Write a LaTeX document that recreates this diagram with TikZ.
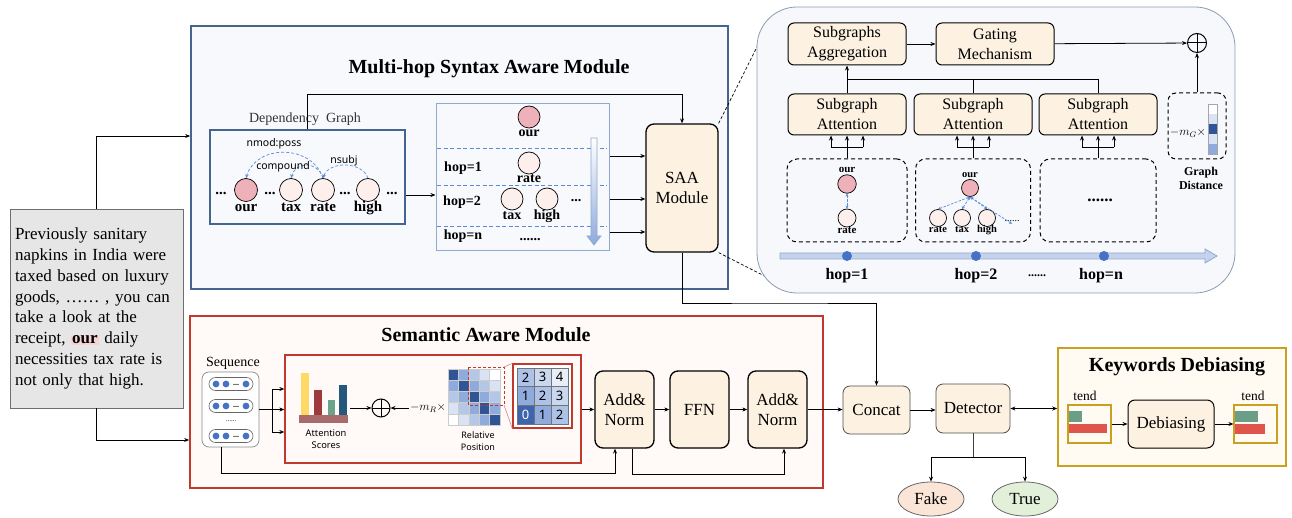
\documentclass[tikz,border=0pt]{standalone}
\usepackage{fontspec}
\setmainfont{Liberation Serif}
\newfontfamily\sansf{Noto Sans}
\usetikzlibrary{arrows.meta,shapes.geometric,calc}
\definecolor{mhfill}{HTML}{F7F9FC}
\definecolor{mhdraw}{HTML}{44668E}
\definecolor{hopdraw}{HTML}{8FAACF}
\definecolor{depblue}{HTML}{5B8BD8}
\definecolor{ourfill}{HTML}{EEB1B9}
\definecolor{nodefill}{HTML}{FCEFEC}
\definecolor{cream}{HTML}{FDF2E1}
\definecolor{semdraw}{HTML}{C0392E}
\definecolor{semfill}{HTML}{FFF9F8}
\definecolor{panelfill}{HTML}{F6F8FC}
\definecolor{paneldraw}{HTML}{8C9CB4}
\definecolor{gold}{HTML}{C9A020}
\definecolor{kdfill}{HTML}{FFFBF3}
\definecolor{txtfill}{HTML}{E6E6E6}
\definecolor{txtdraw}{HTML}{6E6E6E}
\definecolor{fakefill}{HTML}{FBE5D6}
\definecolor{truefill}{HTML}{E2F0D9}
\definecolor{bA}{HTML}{2F5597}
\definecolor{bB}{HTML}{8FAADC}
\definecolor{bC}{HTML}{B4C7E7}
\definecolor{bD}{HTML}{DAE3F3}
\definecolor{mc0}{HTML}{2F5597}
\definecolor{mc1}{HTML}{8FAADC}
\definecolor{mc2}{HTML}{B4C7E7}
\definecolor{mc3}{HTML}{DAE3F3}
\definecolor{mc4}{HTML}{FFFFFF}
\definecolor{gc0}{HTML}{3E64AD}
\definecolor{gc1}{HTML}{8FAADC}
\definecolor{gc2}{HTML}{ADC2E6}
\definecolor{gc3}{HTML}{C9D7EF}
\definecolor{gc4}{HTML}{E8EEF8}
\definecolor{dotblue}{HTML}{4472C4}
\definecolor{ourhl}{HTML}{F9D3D3}
\definecolor{barY}{HTML}{FFD966}
\definecolor{barR}{HTML}{9E3A3C}
\definecolor{barG}{HTML}{6AA38C}
\definecolor{barB}{HTML}{24587C}
\definecolor{barBase}{HTML}{A86A6A}
\definecolor{tendG}{HTML}{6A9E88}
\definecolor{tendR}{HTML}{E0554B}
\newcommand{\fsz}[2]{\fontsize{#1pt}{#2pt}\selectfont}
\tikzset{
 arr/.style={-{Stealth[length=5pt,width=4pt]}, line width=0.8pt},
 blk/.style={draw, line width=1.3pt, rounded corners=8pt, fill=cream, align=center, inner sep=1pt, font=\fsz{17}{20}},
 sbox/.style={draw=black!70, line width=0.8pt, rounded corners=7pt, fill=cream, align=center, inner sep=1pt, font=\fsz{17}{20}},
 pbox/.style={draw, line width=1pt, rounded corners=6pt, fill=cream, align=center, font=\fsz{16}{20}, minimum width=118pt, minimum height=41pt, inner sep=1pt},
 wn/.style={circle, draw, line width=0.7pt, fill=nodefill, inner sep=0pt},
 ournode/.style={wn, fill=ourfill},
 lbl/.style={inner sep=0pt, anchor=base, font=\bfseries\fsz{14}{16}},
 deparr/.style={dash pattern=on 3pt off 2pt, depblue, line width=0.7pt, -{Stealth[length=4pt,width=3.5pt]}},
 deparrb/.style={dash pattern=on 2.5pt off 1.5pt, depblue, line width=0.7pt, {Stealth[length=3pt,width=3pt]}-{Stealth[length=3pt,width=3pt]}},
 dashbox/.style={draw, dash pattern=on 4pt off 3pt, line width=1pt, rounded corners=10pt},
 opl/.style={circle, draw, line width=1pt, inner sep=0pt, minimum size=19pt, path picture={\draw[line width=1pt] (path picture bounding box.north) -- (path picture bounding box.south) (path picture bounding box.west) -- (path picture bounding box.east);}},
}
\begin{document}
\begin{tikzpicture}[x=1pt,y=-1pt]
\useasboundingbox (0,0) rectangle (1292,518);
% ---------- backgrounds of modules
\node[draw=mhdraw, fill=mhfill, line width=1.6pt, minimum width=537pt, minimum height=263pt] (mh) at (459.5,157.5) {};
\node[draw=semdraw, fill=semfill, line width=1.6pt, minimum width=633pt, minimum height=172pt] (sem) at (506.5,402) {};
% ---------- text box
\node[draw=txtdraw, fill=txtfill, line width=0.8pt, minimum width=173pt, minimum height=199pt, text width=163pt, align=left, inner sep=5pt, font=\fsz{17}{20.8}] (txt) at (96.5,308.5)
{Previously sanitary\\napkins in India were\\taxed based on luxury\\goods, …… , you can\\take a look at the\\receipt, {\setlength{\fboxsep}{1pt}\colorbox{ourhl}{\textbf{our}}} daily\\necessities tax rate is\\not only that high.};
\coordinate (k136) at (0,136);
\coordinate (k440) at (0,440);
\draw[arr] (txt.north) |- (mh.west |- k136);
\draw[arr] (txt.south) |- (sem.west |- k440);
% ---------- multi-hop module
\node[font=\bfseries\fsz{20}{22}] (mhT) at (489,69) {Multi-hop Syntax Aware Module};
\node[font=\fsz{14}{16}, text=black!80] (depL) at (305,119) {Dependency\ \ Graph};
\node[draw=mhdraw, fill=mhfill, line width=1.2pt, minimum width=195pt, minimum height=94pt] (dep) at (307.5,177) {};
\node[ournode, minimum size=23pt] (d_our) at (246,190) {};
\node[wn, minimum size=23pt] (d_tax) at (291,190) {};
\node[wn, minimum size=23pt] (d_rate) at (323,190) {};
\node[wn, minimum size=23pt] (d_high) at (368,190) {};
\node[lbl, font=\bfseries\fsz{15}{17}] (dl_our) at (246,212) {our};
\node[lbl, font=\bfseries\fsz{15}{17}] (dl_tax) at (291,212) {tax};
\node[lbl, font=\bfseries\fsz{15}{17}] (dl_rate) at (323,212) {rate};
\node[lbl, font=\bfseries\fsz{15}{17}] (dl_high) at (368,212) {high};
\node[lbl, font=\bfseries\fsz{15}{17}] (dd1) at (221,195) {...};
\node[lbl, font=\bfseries\fsz{15}{17}] (dd2) at (270,195) {...};
\node[lbl, font=\bfseries\fsz{15}{17}] (dd3) at (345,195) {...};
\node[lbl, font=\bfseries\fsz{15}{17}] (dd4) at (392,195) {...};
\draw[deparr] (d_rate.north) .. controls (312,144) and (256,144) .. (d_our.north);
\draw[deparr] (d_rate.north) .. controls (318,161) and (296,161) .. (d_tax.north);
\draw[deparr] (d_high.north) .. controls (362,161) and (329,161) .. (d_rate.north);
\node[font=\sansf\fsz{10.5}{12}, inner sep=1pt] (l_nmod) at (274,144) {nmod:poss};
\node[font=\sansf\fsz{10.5}{12}, inner sep=1pt] (l_comp) at (283,167) {compound};
\node[font=\sansf\fsz{10.5}{12}, inner sep=1pt] (l_nsubj) at (344,161) {nsubj};
% hop box
\node[draw=hopdraw, fill=mhfill, line width=1pt, minimum width=173pt, minimum height=147pt] (hop) at (522.5,177.5) {};
\foreach \yy in {148,185,226} \draw[depblue, dash pattern=on 4pt off 2.5pt, line width=0.8pt] (437,\yy) -- (607,\yy);
\node[ournode, minimum size=22pt] (h_our) at (529,117) {};
\node[lbl] (hl_our) at (529,137) {our};
\node[lbl] (hop1) at (463,171.5) {hop=1};
\node[wn, minimum size=22pt] (h_rate) at (529,163) {};
\node[lbl] (hl_rate) at (529,183) {rate};
\node[lbl] (hop2) at (462,206) {hop=2};
\node[wn, minimum size=22pt] (h_tax) at (512,199) {};
\node[wn, minimum size=22pt] (h_high) at (547,199) {};
\node[lbl] (hl_tax) at (512,220) {tax};
\node[lbl] (hl_high) at (547,220) {high};
\node[lbl] (hdots) at (576,202) {...};
\node[lbl] (hopn) at (463,240) {hop=n};
\node[lbl] (hdots2) at (530,241) {......};
\shade[top color=white, bottom color=bB, draw=hopdraw, line width=0.7pt] (591,138) -- (597,138) -- (597,236) -- (601,236) -- (594,245) -- (587,236) -- (591,236) -- cycle;
\coordinate (k195) at (0,195);
\draw[arr] (dep.east |- k195) -- (hop.west |- k195);
% SAA
\node[blk, minimum width=72pt, minimum height=128pt] (saa) at (682,188) {SAA\\Module};
\coordinate (k94) at (0,94);
\draw[arr] (dep.north) |- (saa.north |- k94) -- (saa.north);
\coordinate (h1) at (0,156);
\coordinate (h2) at (0,199);
\coordinate (h3) at (0,232);
\foreach \h in {h1,h2,h3} \draw[arr] (hop.east |- \h) -- (saa.west |- \h);
% ---------- zoom panel
\coordinate (zA) at (762,37);
\coordinate (zB) at (792,290);
\draw[dash pattern=on 3pt off 2pt, line width=0.7pt] (saa.north east) -- (zA);
\draw[dash pattern=on 3pt off 2pt, line width=0.7pt] (saa.south east) -- (zB);
\node[draw=paneldraw, fill=panelfill, line width=0.8pt, rounded corners=40pt, minimum width=478pt, minimum height=286pt] (panel) at (996,150) {};
\node[pbox, minimum height=42pt] (agg) at (847,44) {Subgraphs\\Aggregation};
\node[pbox, minimum height=42pt] (gate) at (995,44) {Gating\\Mechanism};
\node[opl] (op1) at (1197,43) {};
\draw[arr] (agg) -- (gate);
\draw[arr] (gate) -- (op1);
\node[pbox] (att1) at (847,114.5) {Subgraph\\Attention};
\node[pbox] (att2) at (973,114.5) {Subgraph\\Attention};
\node[pbox] (att3) at (1098,114.5) {Subgraph\\Attention};
\coordinate (bus) at (0,79);
\draw[line width=0.8pt] (att3.north) |- (att1.north |- bus);
\draw[line width=0.8pt] (att2.north) -- (att2.north |- bus);
\draw[arr] (att1.north) -- (agg.south);
\node[dashbox, minimum width=120pt, minimum height=83pt] (sub1) at (847,200.5) {};
\node[dashbox, minimum width=115pt, minimum height=83pt] (sub2) at (973,200.5) {};
\node[dashbox, minimum width=116pt, minimum height=83pt] (sub3) at (1098,200.5) {};
\foreach \s/\a in {sub1/att1, sub2/att2, sub3/att3} {
  \draw[line width=0.8pt] (\s.north) -- ($(\a.south)+(0,12)$);
  \draw[line width=0.8pt] ($(\a.south)+(-16,12)$) -- ($(\a.south)+(16,12)$);
  \foreach \dx in {-16,0,16} \draw[arr] ($(\a.south)+(\dx,12)$) -- ($(\a.south)+(\dx,0)$);
}
% sub1
\node[lbl, font=\bfseries\fsz{11}{12}] (s1l) at (847,173) {our};
\node[ournode, minimum size=18.5pt] (s1o) at (847,184) {};
\node[wn, minimum size=18pt] (s1r) at (847,218) {};
\node[lbl, font=\bfseries\fsz{11}{12}] (s1rl) at (847,234) {rate};
\draw[deparrb] (s1o.south) -- (s1r.north);
% sub2
\node[lbl, font=\bfseries\fsz{10.5}{12}] (s2l) at (970,178) {our};
\node[ournode, minimum size=17pt] (s2o) at (970,188) {};
\node[wn, minimum size=17pt] (s2r) at (938,218) {};
\node[wn, minimum size=17pt] (s2t) at (962,218) {};
\node[wn, minimum size=17pt] (s2h) at (987,218) {};
\node[lbl, font=\bfseries\fsz{10.5}{12}] (s2rl) at (938,233) {rate};
\node[lbl, font=\bfseries\fsz{10.5}{12}] (s2tl) at (962,233) {tax};
\node[lbl, font=\bfseries\fsz{10.5}{12}] (s2hl) at (987,233) {high};
\node[lbl, font=\fsz{10}{12}] (s2d) at (1012,222) {......};
\draw[deparrb] (s2o.south) -- (s2r.north);
\draw[deparrb] (s2o.south) -- (s2t.north);
\draw[deparrb] (s2o.south) -- (s2h.north);
\draw[deparrb] (s2o.south) -- ($(s2d.north)+(0,3)$);
% sub3
\node[lbl, font=\bfseries\fsz{17}{17}] (s3d) at (1100,202) {......};
% graph distance
\node[dashbox, rounded corners=8pt, minimum width=58pt, minimum height=66pt] (gd) at (1197,126) {};
\node[font=\fsz{12}{12}, inner sep=0pt] (mG) at (1188,133) {$-m_G\times$};
\foreach \c [count=\i from 0] in {white,bD,bA,bD,bB} \fill[\c] (1208,104+\i*10) rectangle (1217,114+\i*10);
\draw[black!35, line width=0.4pt] (1208,104) rectangle (1217,154);
\draw[arr] (gd.north) -- (op1.south);
\node[font=\bfseries\fsz{12}{14}, align=center] (gdl) at (1201,178) {Graph\\Distance};
% timeline
\fill[bD!70!bB] (780,253) -- (1205,253) -- (1205,249) -- (1217,256) -- (1205,263) -- (1205,259) -- (780,259) -- cycle;
\draw[hopdraw, line width=0.8pt] (780,253) -- (1205,253) -- (1205,249) -- (1217,256) -- (1205,263) -- (1205,259) -- (780,259) -- cycle;
\node[circle, fill=dotblue, minimum size=10pt, inner sep=0pt] (t1) at (847,256) {};
\node[circle, fill=dotblue, minimum size=10pt, inner sep=0pt] (t2) at (976,256) {};
\node[circle, fill=dotblue, minimum size=10pt, inner sep=0pt] (t3) at (1104,256) {};
\node[lbl, font=\bfseries\fsz{16}{16}] (tl1) at (847,280) {hop=1};
\node[lbl, font=\bfseries\fsz{16}{16}] (tl2) at (976,280) {hop=2};
\node[lbl, font=\bfseries\fsz{12}{16}] (tld) at (1037,277) {......};
\node[lbl, font=\bfseries\fsz{16}{16}] (tl3) at (1101,280) {hop=n};
% ---------- semantic module
\node[font=\bfseries\fsz{20}{22}] (semT) at (486,335) {Semantic Aware Module};
\node[font=\fsz{14}{16}] (seqL) at (233,363) {Sequence};
\node[draw=black!45, fill=white, rounded corners=7pt, line width=0.7pt, minimum width=57pt, minimum height=75pt] (seq) at (230.5,409.5) {};
\foreach \yy [count=\k] in {384,406,436} {
  \node[draw=black!60, fill=white, rounded corners=6.5pt, minimum width=44pt, minimum height=13pt, inner sep=0pt, line width=0.6pt] (pill\k) at (231,\yy) {};
  \fill[dotblue] (216,\yy) circle (3.4pt) (226,\yy) circle (3.4pt) (246,\yy) circle (3.4pt);
  \node[lbl, font=\bfseries\fsz{8}{8}] (pd\k) at (236,\yy+1.5) {...};
}
\node[lbl, font=\fsz{7}{8}] (seqdots) at (231,421) {......};
\node[draw=semdraw, fill=semfill, line width=1.3pt, minimum width=296pt, minimum height=108pt] (inn) at (433,409) {};
\coordinate (q1) at (272,389);
\coordinate (q2) at (272,409.5);
\coordinate (q3) at (272,432);
\draw[line width=0.8pt] (seq.east) -- (q2);
\draw[line width=0.8pt] (q1) -- (q3);
\foreach \q in {q1,q2,q3} \draw[arr] (\q) -- (inn.west |- \q);
% bars
\fill[barY] (301,373) rectangle (309,415);
\fill[barR] (314,390) rectangle (322,415);
\fill[barG] (328,400) rectangle (335,415);
\fill[barB] (339,385) rectangle (347,415);
\fill[barBase] (299,415) rectangle (348,423);
\coordinate (bars) at (350,408);
\node[font=\sansf\fsz{9.3}{12.5}, align=center] (attL) at (326,439) {Attention\\Scores};
\node[opl, minimum size=18pt] (op2) at (381,408) {};
\draw[arr] (bars) -- (op2.west);
\node[font=\fsz{12}{12}, inner sep=1pt] (mR) at (428,408) {$-m_R\times$};
\draw[arr] (mR.west) -- (op2.east);
% matrix
\foreach \r in {0,...,4} \foreach \c in {0,...,4} {
  \pgfmathtruncatemacro\dd{abs(\r-\c)}
  \filldraw[fill=mc\dd, draw=black!20, line width=0.4pt] (448+\c*10.4,369+\r*11.2) rectangle (458.4+\c*10.4,380.2+\r*11.2);
}
\draw[semdraw, dash pattern=on 3pt off 2pt, line width=1pt] (468,367) rectangle (504,405);
\node[font=\sansf\fsz{9}{12.5}, align=center] (rpL) at (478,441) {Relative\\Position};
\node[draw=semdraw, line width=1.3pt, fill=white, minimum width=59pt, minimum height=64pt] (gbox) at (542.5,396) {};
\draw[semdraw!60, line width=0.6pt] (504,367) -- (gbox.north west);
\draw[semdraw!60, line width=0.6pt] (504,405) -- (gbox.south west);
\foreach \row [count=\r from 0] in {{2,3,4},{1,2,3},{0,1,2}} {
  \foreach \v [count=\c from 0] in \row {
    \node[draw=black!55, line width=0.5pt, fill=gc\v, minimum width=17pt, minimum height=18.67pt, inner sep=0pt, font=\sansf\fsz{13}{13}] (g\r\c) at (525.5+\c*17,377.33+\r*18.67) {\ifnum\v=0 \color{white}\fi\v};
  }
}
% add&norm
\node[blk, minimum width=59pt, minimum height=77pt] (an1) at (624.5,409.5) {Add\&\\Norm};
\node[blk, minimum width=59pt, minimum height=77pt] (ffn) at (699.5,409.5) {FFN};
\node[blk, minimum width=59pt, minimum height=77pt] (an2) at (777.5,409.5) {Add\&\\Norm};
\draw[arr] (inn.east |- an1.west) -- (an1.west);
\draw[arr] (an1) -- (ffn);
\draw[arr] (ffn) -- (an2);
\coordinate (r1) at (615,473);
\draw[arr] ([xshift=-9.5pt]seq.south) |- (r1) -- (r1 |- an1.south);
\coordinate (r2) at (784,474);
\draw[arr] ([xshift=7.5pt]an1.south) |- (r2) -- (r2 |- an2.south);
% concat / detector
\node[sbox, minimum width=67pt, minimum height=48pt] (cat) at (876.5,410) {Concat};
\node[sbox, minimum width=74pt, minimum height=49pt] (det) at (973,408.5) {Detector};
\draw[arr] (an2.east) -- (cat.west |- an2.east);
\draw[arr] (cat.east) -- (det.west |- cat.east);
\coordinate (c303) at (780,303);
\draw[arr] (saa.south) |- (c303) -| (cat.north);
\node[ellipse, draw=black!60, fill=fakefill, line width=0.8pt, minimum width=66pt, minimum height=34pt, inner sep=0pt, font=\fsz{17}{17}] (fake) at (931,499) {Fake};
\node[ellipse, draw=black!60, fill=truefill, line width=0.8pt, minimum width=66pt, minimum height=34pt, inner sep=0pt, font=\fsz{17}{17}] (tru) at (1025,499) {True};
\coordinate (dj) at (0,457);
\draw[line width=1pt, black!75] (det.south) -- (det.south |- dj);
\draw[arr] (det.south |- dj) -| (fake.north);
\draw[arr] (det.south |- dj) -| (tru.north);
% ---------- keywords debiasing
\node[draw=gold, fill=kdfill, line width=1.6pt, minimum width=228pt, minimum height=118pt] (kd) at (1172,407) {};
\node[font=\bfseries\fsz{20}{22}] (kdT) at (1177,367) {Keywords Debiasing};
\draw[{Stealth[length=5pt,width=4pt]}-{Stealth[length=5pt,width=4pt]}, line width=0.8pt] (det.east) -- (kd.west |- det.east);
\node[font=\fsz{13.5}{14}] (tend1) at (1085,396) {tend};
\node[font=\fsz{13.5}{14}] (tend2) at (1253,396) {tend};
\node[draw=gold, fill=kdfill, line width=1.2pt, minimum width=43pt, minimum height=38pt, inner sep=0pt] (sb1) at (1089.5,424) {};
\fill[tendG] (1069,411) rectangle (1082,422);
\fill[tendR] (1069,424) rectangle (1107,433);
\node[sbox, draw=black, line width=1pt, minimum width=86pt, minimum height=48pt] (deb) at (1171,424) {Debiasing};
\node[draw=gold, fill=kdfill, line width=1.2pt, minimum width=43pt, minimum height=38pt, inner sep=0pt] (sb2) at (1255.5,424) {};
\fill[tendG] (1235,411) rectangle (1258,422);
\fill[tendR] (1235,424) rectangle (1265,434);
\draw[arr] (sb1.east) -- (deb.west);
\draw[arr] (deb.east) -- (sb2.west);
\end{tikzpicture}
\end{document}
